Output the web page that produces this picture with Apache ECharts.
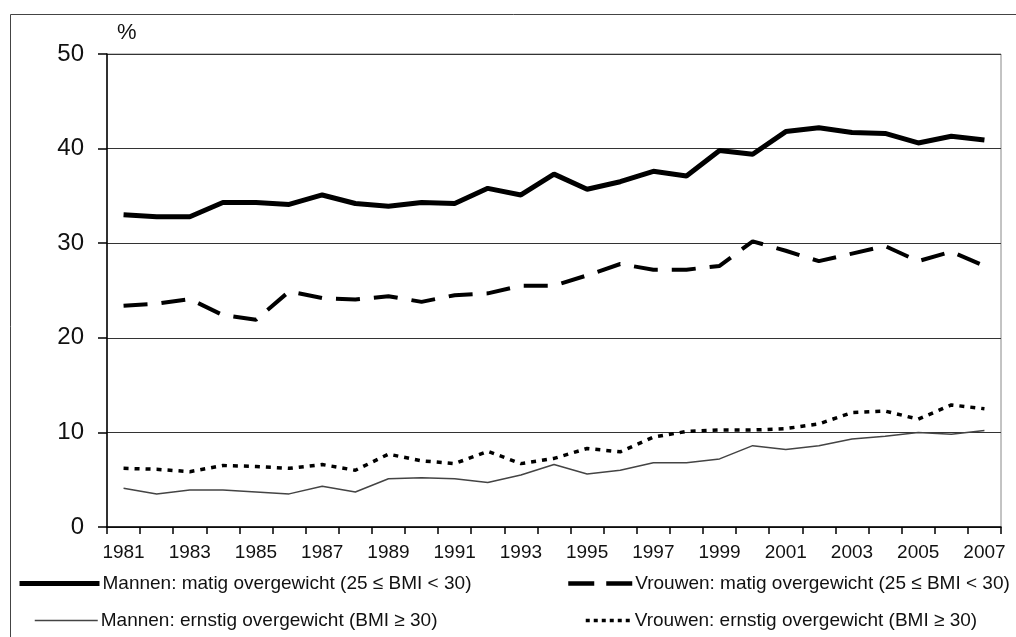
<!DOCTYPE html>
<html>
<head>
<meta charset="utf-8">
<script src="https://cdn.jsdelivr.net/npm/echarts@6/dist/echarts.min.js"></script>
<style>
html,body{margin:0;padding:0;background:#fff;}
#chart{width:1016px;height:637px;}
</style>
</head>
<body>
<div id="chart"></div>
<script>
var years = ['1981','1982','1983','1984','1985','1986','1987','1988','1989','1990','1991','1992','1993','1994','1995','1996','1997','1998','1999','2000','2001','2002','2003','2004','2005','2006','2007'];
var mannenMatig = [33.0,32.8,32.8,34.3,34.3,34.1,35.1,34.2,33.9,34.3,34.2,35.8,35.1,37.3,35.7,36.5,37.6,37.1,39.8,39.4,41.8,42.2,41.7,41.6,40.6,41.3,40.9];
var vrouwenMatig = [23.4,23.6,24.1,22.4,21.9,24.9,24.2,24.05,24.4,23.8,24.5,24.7,25.5,25.5,26.6,27.8,27.2,27.2,27.6,30.2,29.2,28.1,28.9,29.7,28.1,29.1,27.6];
var mannenErnstig = [4.1,3.5,3.9,3.9,3.7,3.5,4.3,3.7,5.1,5.2,5.1,4.7,5.5,6.6,5.6,6.0,6.8,6.8,7.2,8.6,8.2,8.6,9.3,9.6,10.0,9.8,10.2];
var vrouwenErnstig = [6.2,6.1,5.85,6.5,6.4,6.2,6.6,6.0,7.7,7.0,6.7,8.0,6.7,7.25,8.3,7.95,9.5,10.1,10.25,10.25,10.4,10.9,12.1,12.25,11.4,12.9,12.5];
var seriesNames = [
  'Mannen: matig overgewicht (25 \u2264 BMI < 30)',
  'Vrouwen: matig overgewicht (25 \u2264 BMI < 30)',
  'Mannen: ernstig overgewicht (BMI \u2265 30)',
  'Vrouwen: ernstig overgewicht (BMI \u2265 30)'
];
var yTicks = [0,10,20,30,40,50];

var font = '"Liberation Sans",Arial,sans-serif';

var chart = echarts.init(document.getElementById('chart'), null, {renderer:'canvas'});
function legendAt(name, left, top, w, ls){
  return {
    data:[name], left:left, top:top, orient:'horizontal',
    itemWidth:w, itemHeight:14, itemGap:0, padding:0,
    itemStyle:{opacity:0, borderWidth:0},
    lineStyle:ls,
    textStyle:{fontFamily:font, fontSize:19, color:'#111', padding:[0,0,0,-2]},
    selectedMode:false
  };
}
chart.setOption({
  animation:false,
  backgroundColor:'#fff',
  graphic:[{
    type:'rect', shape:{x:10.5,y:14.5,width:1040,height:700},
    style:{fill:'none', stroke:'#444', lineWidth:1}, silent:true
  }],
  grid:{left:107, top:54, right:15, bottom:110, show:true, borderColor:'#888', borderWidth:1, backgroundColor:'transparent'},
  legend:[
    legendAt(seriesNames[0], 17, 574, 80, {color:'#000', width:5, type:'solid', opacity:1}),
    legendAt(seriesNames[1], 566, 574, 64, {color:'#000', width:4.5, type:[26,12], opacity:1}),
    legendAt(seriesNames[2], 34, 611, 63, {color:'#444', width:1.5, type:'solid', opacity:1}),
    legendAt(seriesNames[3], 584, 611, 46, {color:'#000', width:3.5, type:[4,4], opacity:1})
  ],
  xAxis:{
    type:'category', data:years, boundaryGap:true,
    axisLine:{lineStyle:{color:'#000', width:1.5}},
    axisTick:{show:true, interval:0, length:7, inside:false, lineStyle:{color:'#000', width:1.5}},
    axisLabel:{interval:1, margin:16, fontFamily:font, fontSize:19, color:'#111'},
    splitLine:{show:false}
  },
  yAxis:{
    type:'value', min:yTicks[0], max:yTicks[yTicks.length-1], interval:10,
    name:'%', nameLocation:'end', nameGap:10,
    nameTextStyle:{fontFamily:font, fontSize:22, color:'#111', align:'left', padding:[0,0,0,10]},
    axisLine:{show:true, lineStyle:{color:'#000', width:1.5}},
    axisTick:{show:true, length:9, lineStyle:{color:'#000', width:1.5}},
    axisLabel:{margin:23, fontFamily:font, fontSize:24, color:'#111'},
    splitLine:{show:true, lineStyle:{color:'#333', width:1.2}}
  },
  series:[
    {name:seriesNames[0], type:'line', data:mannenMatig, symbol:'none', z:5,
     lineStyle:{color:'#000', width:5}, itemStyle:{color:'#000', opacity:0}},
    {name:seriesNames[1], type:'line', data:vrouwenMatig, symbol:'none', z:4,
     lineStyle:{color:'#000', width:4, type:[24,14]}, itemStyle:{color:'#000', opacity:0}},
    {name:seriesNames[2], type:'line', data:mannenErnstig, symbol:'none', z:3,
     lineStyle:{color:'#444', width:1.5}, itemStyle:{color:'#444', opacity:0}},
    {name:seriesNames[3], type:'line', data:vrouwenErnstig, symbol:'none', z:3,
     lineStyle:{color:'#000', width:3.5, type:[5,6]}, itemStyle:{color:'#000', opacity:0}}
  ]
});
</script>
</body>
</html>
